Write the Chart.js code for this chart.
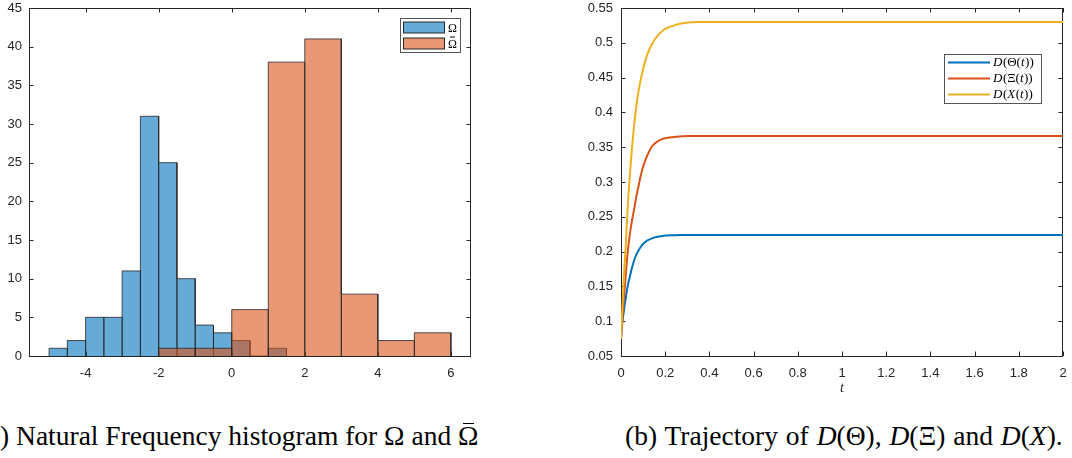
<!DOCTYPE html>
<html><head><meta charset="utf-8">
<script src="https://cdn.jsdelivr.net/npm/chart.js@4.4.1/dist/chart.umd.min.js"></script>
<style>
html,body{margin:0;padding:0;background:#fff;width:1072px;height:458px;overflow:hidden;position:relative}
#c1{position:absolute;left:0;top:0}
#c2{position:absolute;left:580px;top:0}
.cap{position:absolute;top:422px;font-family:"Liberation Serif","Times New Roman",serif;font-size:27.5px;line-height:27.5px;white-space:nowrap;color:#000}
.ob{position:relative;display:inline-block}
.ob::after{content:'';position:absolute;left:22%;right:22%;top:1px;border-top:1.5px solid #000}
</style></head><body>
<canvas id="c1" width="480" height="395"></canvas>
<canvas id="c2" width="492" height="395"></canvas>
<div class="cap" id="capA"><span id="capAhide">(a</span>) Natural Frequency histogram for Ω and <span class="ob">Ω</span></div>
<div class="cap" id="capB" style="left:625px;word-spacing:1px">(b) Trajectory of <i>D</i>(Θ), <i>D</i>(Ξ) and <i>D</i>(<i>X</i>).</div>
<script>
// ---------- data: histogram (a) ----------
const omegaBinEdges = [-5,-4.5,-4,-3.5,-3,-2.5,-2,-1.5,-1,-0.5,0,0.5,1,1.5];
const omegaCounts   = [1,2,5,5,11,31,25,10,4,3,2,0,1];
const omegaBarBinEdges = [-2,-1,0,1,2,3,4,5,6];
const omegaBarCounts   = [1,1,6,38,41,8,2,3];
const histXTicks = [-4,-2,0,2,4,6];
const histXTickLabels = ['-4','-2','0','2','4','6'];
const histYTicks = [0,5,10,15,20,25,30,35,40,45];
const histYTickLabels = ['0','5','10','15','20','25','30','35','40','45'];
const histLabels = ['Ω','Ω'];
const histLabelBar = [false,true];

// ---------- data: trajectories (b) ----------
const tValues     = [0,0.005,0.01,0.015,0.02,0.03,0.04,0.05,0.06,0.07,0.08,0.09,0.1,0.12,0.14,0.16,0.18,0.2,0.25,0.3,0.35,0.4,0.6,0.8,1.0,1.2,1.4,1.6,1.8,2.0];
const thetaValues = [0.075,0.095,0.108,0.12,0.13,0.15,0.164,0.177,0.188,0.196,0.202,0.207,0.211,0.216,0.219,0.221,0.222,0.223,0.2235,0.224,0.224,0.224,0.224,0.224,0.224,0.224,0.224,0.224,0.224,0.224];
const xiValues    = [0.075,0.1,0.12,0.14,0.16,0.198,0.225,0.245,0.262,0.28,0.295,0.31,0.322,0.339,0.351,0.357,0.361,0.363,0.365,0.366,0.366,0.366,0.366,0.366,0.366,0.366,0.366,0.366,0.366,0.366];
const chiValues   = [0.075,0.11,0.145,0.175,0.2,0.262,0.31,0.35,0.383,0.41,0.432,0.448,0.462,0.484,0.498,0.508,0.515,0.52,0.526,0.529,0.53,0.53,0.53,0.53,0.53,0.53,0.53,0.53,0.53,0.53];
const trajXTicks = [0,0.2,0.4,0.6,0.8,1,1.2,1.4,1.6,1.8,2];
const trajXTickLabels = ['0','0.2','0.4','0.6','0.8','1','1.2','1.4','1.6','1.8','2'];
const trajYTicks = [0.05,0.1,0.15,0.2,0.25,0.3,0.35,0.4,0.45,0.5,0.55];
const trajYTickLabels = ['0.05','0.1','0.15','0.2','0.25','0.3','0.35','0.4','0.45','0.5','0.55'];
const trajLabels = ['D(Θ(t))','D(Ξ(t))','D(X(t))'];

// hide "(a" off the left edge
const hideW = document.getElementById('capAhide').getBoundingClientRect().width;
document.getElementById('capA').style.left = (-hideW) + 'px';

const AX = '#262626';
const tickFont = {family:'"Liberation Sans", Arial, sans-serif', size:13};
const SERIF = '"Liberation Serif", "Times New Roman", serif';

function histPoints(edges, counts){
  const pts = [];
  for (let i=0;i<counts.length;i++){
    pts.push({x:edges[i],y:0},{x:edges[i],y:counts[i]},{x:edges[i+1],y:counts[i]},{x:edges[i+1],y:0});
  }
  return pts;
}

const framePlugin = {
  id:'frame',
  beforeDatasetsDraw(chart){
    const {ctx, chartArea:a, scales:{x,y}} = chart;
    ctx.save();
    ctx.strokeStyle = AX; ctx.lineWidth = 1;
    ctx.beginPath();
    const L=4.5;
    x.ticks.forEach(t=>{
      const px = Math.round(x.getPixelForValue(t.value))+0.5;
      ctx.moveTo(px,a.bottom); ctx.lineTo(px,a.bottom-L);
      ctx.moveTo(px,a.top); ctx.lineTo(px,a.top+L);
    });
    y.ticks.forEach(t=>{
      const py = Math.round(y.getPixelForValue(t.value))+0.5;
      ctx.moveTo(a.left,py); ctx.lineTo(a.left+L,py);
      ctx.moveTo(a.right,py); ctx.lineTo(a.right-L,py);
    });
    ctx.stroke();
    ctx.strokeRect(a.left+0.5, a.top+0.5, a.right-a.left-1, a.bottom-a.top);
    ctx.restore();
  }
};

function drawMath(ctx, text, x, y, size){
  let cx = x;
  for (const ch of text){
    const it = /[A-Za-z]/.test(ch);
    ctx.font = (it?'italic ':'') + size + 'px ' + SERIF;
    ctx.fillText(ch, cx, y);
    cx += ctx.measureText(ch).width + (it?0.5:0);
  }
}

const legend1 = {
  id:'legend1',
  afterDraw(chart){
    const {ctx, chartArea:a} = chart;
    const w=60, h=34, x0=a.right-11-w, y0=a.top+10;
    ctx.save();
    ctx.fillStyle='#fff'; ctx.fillRect(x0,y0,w,h);
    ctx.strokeStyle='#555'; ctx.lineWidth=1; ctx.strokeRect(x0+0.5,y0+0.5,w,h);
    chart.data.datasets.forEach((ds,i)=>{
      const cy = y0 + 9.5 + 16*i;
      ctx.fillStyle = ds.legendColor;
      ctx.fillRect(x0+3.5, cy-5.5, 41, 11);
      ctx.strokeStyle = AX; ctx.lineWidth=1;
      ctx.strokeRect(x0+3.5, cy-5.5, 41, 11);
      ctx.fillStyle='#000'; ctx.textBaseline='middle'; ctx.textAlign='left';
      ctx.font = '12px ' + SERIF;
      const tx = x0+48;
      ctx.fillText(ds.label, tx, cy+1);
      if (histLabelBar[i]){
        const tw = ctx.measureText(ds.label).width;
        ctx.strokeStyle='#000'; ctx.lineWidth=1;
        ctx.beginPath(); ctx.moveTo(tx+2, cy-6.5); ctx.lineTo(tx+tw-2, cy-6.5); ctx.stroke();
      }
    });
    ctx.restore();
  }
};

const legend2 = {
  id:'legend2',
  afterDraw(chart){
    const {ctx, chartArea:a} = chart;
    const w=97, h=49, x0=a.right-22-w, y0=a.top+46;
    ctx.save();
    ctx.fillStyle='#fff'; ctx.fillRect(x0,y0,w,h);
    ctx.strokeStyle='#555'; ctx.lineWidth=1; ctx.strokeRect(x0+0.5,y0+0.5,w,h);
    chart.data.datasets.forEach((ds,i)=>{
      const cy = y0 + 8.5 + 16*i;
      ctx.strokeStyle = ds.borderColor; ctx.lineWidth = 2;
      ctx.beginPath(); ctx.moveTo(x0+4, cy); ctx.lineTo(x0+46, cy); ctx.stroke();
      ctx.fillStyle='#000'; ctx.textBaseline='middle'; ctx.textAlign='left';
      drawMath(ctx, ds.label, x0+49, cy+0.5, 13);
    });
    ctx.restore();
  }
};

const common = {
  responsive:false, animation:false, events:[],
  plugins:{legend:{display:false}, tooltip:{enabled:false}}
};
const fitY = w => s => { s.width = w; s.paddingTop = 0; s.paddingBottom = 0; };
const fitX = h => s => { s.height = h; s.paddingLeft = 0; s.paddingRight = 0; };

new Chart(document.getElementById('c1'), {
  type:'line',
  data:{datasets:[
    {label:histLabels[0], data:histPoints(omegaBinEdges, omegaCounts), order:2,
     borderColor:AX, borderWidth:0.8, backgroundColor:'rgba(0,114,189,0.6)', legendColor:'rgb(102,170,215)',
     fill:'origin', pointRadius:0, tension:0, borderJoinStyle:'miter'},
    {label:histLabels[1], data:histPoints(omegaBarBinEdges, omegaBarCounts), order:1,
     borderColor:AX, borderWidth:0.8, backgroundColor:'rgba(217,83,25,0.6)', legendColor:'rgb(232,152,117)',
     fill:'origin', pointRadius:0, tension:0, borderJoinStyle:'miter'}
  ]},
  options:Object.assign({}, common, {
    layout:{padding:{left:0, top:8, right:9, bottom:0}},
    scales:{
      x:{type:'linear', min:-5.55, max:6.55,
         grid:{display:false, drawTicks:false}, border:{display:false},
         afterBuildTicks:s=>{s.ticks = histXTicks.map(v=>({value:v}));},
         afterFit:fitX(39),
         ticks:{color:AX, font:tickFont, padding:10, maxRotation:0, autoSkip:false,
                callback:(v,i)=>histXTickLabels[i]}},
      y:{type:'linear', min:0, max:45,
         grid:{display:false, drawTicks:false}, border:{display:false},
         afterBuildTicks:s=>{s.ticks = histYTicks.map(v=>({value:v}));},
         afterFit:fitY(29),
         ticks:{color:AX, font:tickFont, padding:7, autoSkip:false,
                callback:(v,i)=>histYTickLabels[i]}}
    }
  }),
  plugins:[framePlugin, legend1]
});

const lineCols = ['#0072BD','#D95319','#EDB120'];
const series = [thetaValues, xiValues, chiValues];
new Chart(document.getElementById('c2'), {
  type:'line',
  data:{
    datasets:series.map((vals,k)=>({
      label:trajLabels[k], data:vals.map((v,i)=>({x:tValues[i], y:v})),
      borderColor:lineCols[k], borderWidth:2, pointRadius:0, fill:false,
      cubicInterpolationMode:'monotone', order:3-k
    }))
  },
  options:Object.assign({}, common, {
    layout:{padding:{left:0, top:8, right:9, bottom:0}},
    scales:{
      x:{type:'linear', min:0, max:2,
         grid:{display:false, drawTicks:false}, border:{display:false},
         afterBuildTicks:s=>{s.ticks = trajXTicks.map(v=>({value:v}));},
         afterFit:fitX(39),
         title:{display:true, text:'t', color:AX, padding:{top:0,bottom:0},
                font:{family:SERIF, style:'italic', size:14, lineHeight:1}},
         ticks:{color:AX, font:tickFont, padding:10, maxRotation:0, autoSkip:false,
                callback:(v,i)=>trajXTickLabels[i]}},
      y:{type:'linear', min:0.05, max:0.55,
         grid:{display:false, drawTicks:false}, border:{display:false},
         afterBuildTicks:s=>{s.ticks = trajYTicks.map(v=>({value:v}));},
         afterFit:fitY(41),
         ticks:{color:AX, font:tickFont, padding:8, autoSkip:false,
                callback:(v,i)=>trajYTickLabels[i]}}
    }
  }),
  plugins:[framePlugin, legend2]
});
</script>
</body></html>
